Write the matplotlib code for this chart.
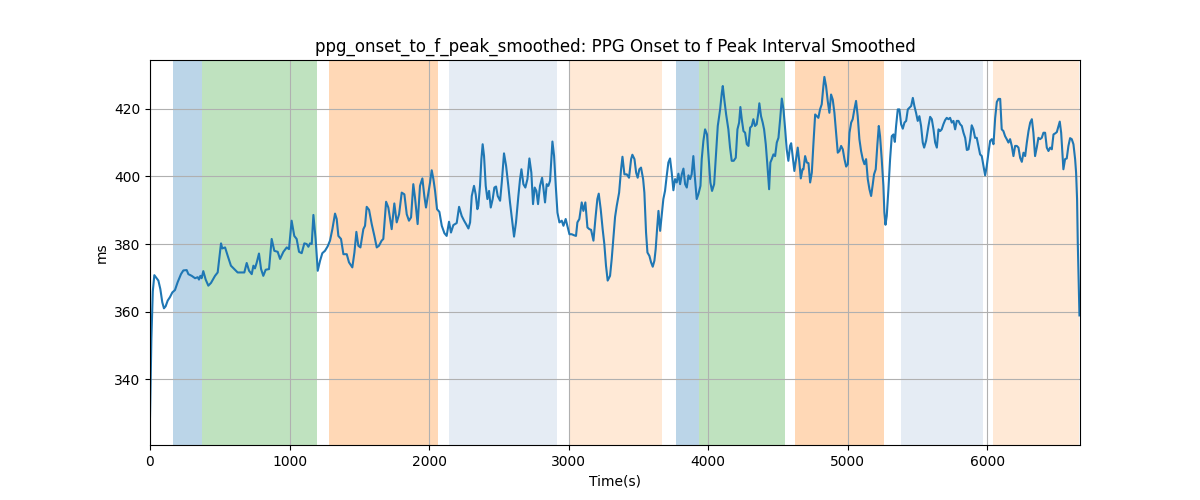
import matplotlib
matplotlib.use("Agg")
import matplotlib.pyplot as plt

time_s = [0, 10, 20, 31, 60, 74, 88, 100, 112, 127, 143, 160, 179, 198, 222, 239, 263, 275, 299, 323,
          342, 351, 361, 370, 382, 399, 418, 437, 466, 485, 509, 518, 538, 557, 580, 604, 628, 657, 676, 693,
          710, 729, 741, 752, 764, 781, 796, 812, 829, 853, 872, 891, 915, 932, 956, 980, 996, 1015, 1034, 1051,
          1068, 1087, 1106, 1123, 1135, 1147, 1159, 1171, 1187, 1202, 1219, 1235, 1254, 1273, 1290, 1307, 1326, 1338, 1350, 1369,
          1386, 1410, 1426, 1450, 1465, 1479, 1493, 1508, 1529, 1541, 1553, 1570, 1589, 1608, 1625, 1641, 1660, 1672, 1692, 1708,
          1720, 1732, 1751, 1768, 1785, 1804, 1823, 1840, 1856, 1871, 1887, 1899, 1918, 1935, 1952, 1966, 1978, 1995, 2007, 2019,
          2031, 2043, 2057, 2074, 2091, 2110, 2126, 2143, 2157, 2174, 2198, 2215, 2234, 2251, 2265, 2282, 2294, 2306, 2322, 2334,
          2346, 2353, 2365, 2375, 2384, 2394, 2406, 2418, 2430, 2442, 2456, 2468, 2480, 2492, 2509, 2521, 2537, 2552, 2568, 2580,
          2597, 2609, 2623, 2640, 2652, 2662, 2676, 2690, 2705, 2719, 2733, 2745, 2757, 2769, 2781, 2795, 2810, 2819, 2831, 2843,
          2855, 2867, 2884, 2896, 2908, 2920, 2934, 2951, 2963, 2979, 2991, 3006, 3022, 3039, 3053, 3063, 3077, 3094, 3106, 3120,
          3135, 3149, 3161, 3178, 3194, 3206, 3216, 3230, 3244, 3256, 3268, 3280, 3297, 3309, 3321, 3333, 3345, 3362, 3376, 3386,
          3400, 3417, 3433, 3448, 3457, 3472, 3484, 3495, 3507, 3519, 3534, 3543, 3555, 3565, 3579, 3591, 3603, 3615, 3624, 3634,
          3644, 3656, 3667, 3679, 3691, 3703, 3715, 3727, 3739, 3751, 3763, 3775, 3787, 3799, 3811, 3823, 3835, 3847, 3859, 3871,
          3882, 3894, 3906, 3918, 3930, 3945, 3954, 3966, 3978, 3992, 4004, 4016, 4028, 4043, 4054, 4069, 4086, 4098, 4105, 4117,
          4129, 4145, 4157, 4169, 4183, 4198, 4210, 4222, 4231, 4241, 4253, 4265, 4277, 4289, 4301, 4313, 4324, 4336, 4348, 4360,
          4367, 4379, 4391, 4401, 4413, 4425, 4437, 4446, 4456, 4468, 4480, 4492, 4504, 4516, 4528, 4540, 4552, 4563, 4575, 4587,
          4595, 4606, 4618, 4630, 4642, 4654, 4664, 4676, 4683, 4695, 4707, 4719, 4731, 4743, 4755, 4767, 4778, 4790, 4802, 4814,
          4826, 4833, 4845, 4857, 4869, 4881, 4893, 4905, 4917, 4929, 4941, 4953, 4965, 4977, 4989, 5001, 5013, 5025, 5036, 5048,
          5060, 5072, 5084, 5096, 5108, 5120, 5132, 5144, 5156, 5168, 5180, 5189, 5201, 5213, 5223, 5232, 5244, 5256, 5263, 5271,
          5280, 5292, 5304, 5316, 5328, 5338, 5347, 5359, 5371, 5383, 5395, 5407, 5419, 5431, 5443, 5455, 5467, 5478, 5490, 5502,
          5514, 5526, 5538, 5548, 5562, 5579, 5591, 5603, 5615, 5627, 5639, 5651, 5663, 5674, 5686, 5698, 5710, 5722, 5734, 5746,
          5758, 5770, 5782, 5794, 5806, 5818, 5830, 5842, 5854, 5866, 5878, 5889, 5901, 5913, 5925, 5937, 5949, 5961, 5973, 5985,
          5997, 6009, 6021, 6033, 6045, 6057, 6069, 6081, 6093, 6104, 6116, 6128, 6140, 6152, 6164, 6176, 6188, 6200, 6212, 6224,
          6236, 6248, 6260, 6272, 6284, 6296, 6308, 6320, 6331, 6343, 6355, 6367, 6379, 6391, 6403, 6415, 6427, 6439, 6451, 6463,
          6475, 6487, 6499, 6511, 6520, 6530, 6539, 6546, 6558, 6570, 6582, 6594, 6606, 6618, 6630, 6637, 6644, 6649, 6656, 6661]

interval_ms = [329.0, 352.0, 366.0, 370.8, 369.2, 366.7, 362.8, 361.0, 361.6, 363.3, 364.3, 365.7, 366.4, 368.7, 371.1, 372.2, 372.3, 371.1, 370.6, 369.9,
               370.2, 369.5, 370.6, 369.9, 372.0, 369.5, 367.7, 368.5, 370.6, 371.6, 380.2, 378.7, 379.0, 376.5, 373.6, 372.6, 371.6, 371.6, 371.6, 374.4,
               372.1, 371.1, 373.6, 372.8, 374.4, 377.2, 372.6, 370.6, 372.4, 372.6, 381.5, 378.0, 377.7, 375.6, 377.7, 379.0, 378.5, 386.9, 382.4, 381.5,
               377.7, 377.3, 380.2, 380.0, 379.2, 380.2, 380.0, 388.6, 381.5, 372.1, 375.1, 377.3, 378.0, 379.3, 381.0, 384.4, 389.0, 387.4, 382.4, 381.5,
               377.0, 377.0, 374.6, 373.1, 377.5, 383.6, 379.5, 379.0, 384.4, 385.4, 391.0, 390.1, 385.9, 382.4, 379.0, 379.5, 381.0, 381.5, 392.5, 390.8,
               387.6, 384.4, 392.0, 386.4, 388.8, 395.2, 394.7, 388.8, 386.9, 387.9, 397.7, 393.8, 385.9, 397.2, 399.4, 394.2, 390.8, 395.2, 398.2, 401.8,
               399.2, 395.7, 390.3, 389.5, 385.4, 383.2, 382.4, 386.6, 383.4, 385.6, 386.2, 391.0, 388.3, 386.9, 385.9, 384.6, 386.4, 394.2, 397.2, 394.7,
               390.3, 391.3, 397.2, 405.1, 409.5, 406.0, 397.2, 393.3, 395.7, 390.8, 393.3, 396.7, 397.0, 394.2, 392.8, 398.2, 406.8, 403.1, 397.2, 392.3,
               386.4, 382.2, 386.4, 394.2, 399.2, 402.1, 397.7, 396.7, 399.2, 405.3, 401.1, 391.8, 396.7, 395.7, 391.8, 397.2, 399.6, 396.7, 392.3, 397.7,
               397.2, 398.7, 410.3, 406.0, 397.2, 389.3, 386.4, 386.9, 385.4, 387.4, 385.4, 382.9, 382.9, 382.6, 382.4, 386.4, 387.4, 392.3, 389.8, 392.3,
               384.9, 384.4, 384.2, 381.0, 388.3, 393.3, 394.9, 390.3, 384.4, 380.0, 373.6, 369.2, 370.6, 375.6, 381.9, 388.0, 391.3, 395.2, 402.1, 405.8,
               400.6, 400.6, 399.6, 405.1, 406.4, 405.1, 401.1, 399.6, 402.1, 402.6, 399.2, 395.2, 383.4, 377.5, 376.5, 374.6, 373.3, 375.1, 378.5, 384.4,
               389.8, 383.9, 388.3, 393.3, 395.7, 400.1, 404.1, 405.3, 401.1, 395.9, 399.2, 398.2, 400.8, 397.7, 400.6, 402.3, 397.7, 396.7, 400.3, 399.2,
               400.6, 406.0, 399.2, 393.3, 394.7, 397.2, 405.1, 410.5, 413.9, 412.4, 405.1, 398.2, 395.7, 397.7, 405.1, 414.9, 419.8, 424.7, 426.7, 422.3,
               418.3, 413.9, 408.5, 404.6, 404.6, 405.5, 413.9, 415.9, 420.5, 416.9, 413.4, 412.9, 409.5, 409.0, 414.4, 414.9, 416.9, 414.9, 415.4, 418.8,
               421.6, 417.8, 415.9, 413.9, 409.5, 403.1, 396.2, 404.1, 405.1, 406.5, 406.0, 410.0, 411.4, 416.9, 423.0, 419.8, 413.9, 408.0, 404.6, 409.0,
               409.8, 406.0, 401.6, 405.1, 408.5, 404.1, 399.4, 402.1, 402.1, 406.0, 404.1, 403.9, 398.2, 401.1, 410.0, 418.3, 417.8, 417.3, 419.8, 421.3,
               426.7, 429.4, 426.7, 422.3, 418.8, 424.2, 422.7, 418.8, 412.9, 407.0, 407.5, 409.0, 408.0, 405.1, 402.9, 403.6, 412.9, 415.9, 416.9, 419.8,
               422.3, 417.8, 411.0, 407.5, 405.1, 403.6, 405.1, 399.2, 396.2, 394.2, 397.7, 400.6, 402.1, 409.5, 414.9, 411.9, 405.1, 397.2, 389.3, 385.7,
               388.3, 396.2, 405.1, 411.9, 412.4, 410.2, 414.9, 419.8, 419.8, 415.4, 414.1, 415.9, 416.4, 419.8, 420.3, 420.8, 423.2, 420.8, 418.8, 416.4,
               417.8, 414.9, 410.0, 408.5, 410.5, 414.9, 417.6, 416.9, 413.9, 410.0, 408.5, 413.9, 413.4, 413.9, 415.4, 416.6, 417.3, 416.9, 417.3, 415.9,
               416.4, 413.9, 416.4, 416.4, 415.4, 414.9, 412.9, 411.4, 407.8, 408.0, 411.0, 415.1, 413.9, 411.4, 411.4, 409.0, 406.5, 406.0, 403.1, 400.3,
               403.1, 407.0, 410.5, 411.0, 409.5, 417.3, 422.0, 422.9, 422.9, 413.9, 413.4, 411.9, 411.0, 410.0, 411.0, 409.0, 406.0, 409.0, 409.0, 408.5,
               405.5, 404.3, 407.0, 406.0, 410.0, 413.4, 415.9, 416.9, 412.9, 406.0, 408.5, 411.4, 411.0, 411.4, 412.9, 412.9, 408.5, 407.5, 408.5, 408.0,
               412.4, 412.7, 413.1, 414.9, 416.2, 412.9, 407.0, 402.1, 405.1, 405.3, 409.0, 411.3, 411.0, 409.5, 405.1, 401.1, 393.3, 380.5, 367.7, 358.9]

span_starts = [167, 370, 1283, 2143, 3003, 3770, 3938, 4623, 5383, 6043]
span_ends = [370, 1195, 2062, 2915, 3668, 3938, 4552, 5262, 5973, 6655]
span_colors = ["tab:blue", "tab:green", "tab:orange", "lightsteelblue", "tab:orange",
               "tab:blue", "tab:green", "tab:orange", "lightsteelblue", "tab:orange"]
span_alphas = [0.3, 0.3, 0.3, 0.32, 0.17, 0.3, 0.3, 0.3, 0.32, 0.17]

fig, ax = plt.subplots(figsize=(12, 5), dpi=100)
for s, e, c, a in zip(span_starts, span_ends, span_colors, span_alphas):
    ax.axvspan(s, e, color=c, alpha=a, linewidth=0)
ax.plot(time_s, interval_ms, color="tab:blue", linewidth=1.5)
ax.grid(True)
ax.set_xlim(0, 6665)
ax.set_ylim(320.6, 434.4)
ax.set_title("ppg_onset_to_f_peak_smoothed: PPG Onset to f Peak Interval Smoothed")
ax.set_xlabel("Time(s)")
ax.set_ylabel("ms")
fig.savefig("out.png")
